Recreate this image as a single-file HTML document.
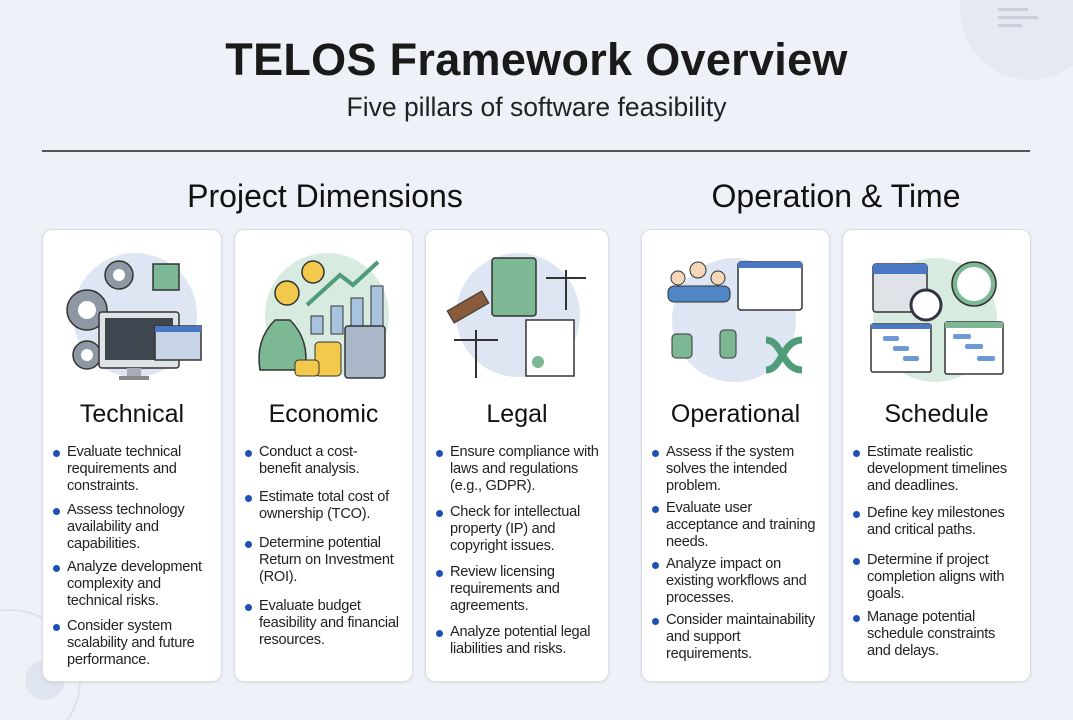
<!DOCTYPE html>
<html><head><meta charset="utf-8"><style>
*{margin:0;padding:0;box-sizing:border-box}
body{width:1073px;height:720px;background:#eef2f8;position:relative;overflow:hidden;font-family:"Liberation Sans",sans-serif;color:#1a1a1a}
.abs{position:absolute}
h1{position:absolute;left:0;width:1073px;top:34px;text-align:center;font-size:45px;font-weight:bold;letter-spacing:0.3px}
.sub{position:absolute;left:0;width:1073px;top:92px;text-align:center;font-size:26.5px;color:#222}
.rule{position:absolute;left:42px;width:988px;top:150px;height:2px;background:#555}
.sec{position:absolute;top:178px;font-size:32px;text-align:center;color:#111}
.card{position:absolute;top:229px;height:453px;background:#fff;border:1px solid #d8dde6;border-radius:10px;box-shadow:0 1px 3px rgba(0,0,0,.08)}
.ct{position:absolute;top:170px;left:0;width:100%;text-align:center;font-size:25px;color:#111}
.it{position:absolute;left:24px;white-space:nowrap;font-size:14.6px;letter-spacing:-0.25px;line-height:17px;color:#222}
.it:before{content:"";position:absolute;left:-14px;top:6px;width:7px;height:7px;border-radius:50%;background:#1e4fb4}
svg.ic{position:absolute;left:0;top:0}
</style></head><body>
<svg class="abs" style="left:950px;top:-20px" width="140" height="120"><circle cx="80" cy="30" r="70" fill="#e4e9f2"/><rect x="48" y="28" width="30" height="3" fill="#c8cfdb"/><rect x="48" y="36" width="40" height="3" fill="#c8cfdb"/><rect x="48" y="44" width="24" height="3" fill="#c8cfdb"/></svg>
<svg class="abs" style="left:0;top:560px" width="120" height="160"><circle cx="10" cy="120" r="70" fill="none" stroke="#dde2ea" stroke-width="2"/><circle cx="45" cy="120" r="20" fill="#dfe5ee"/></svg>
<h1>TELOS Framework Overview</h1>
<div class="sub">Five pillars of software feasibility</div>
<div class="rule"></div>
<div class="sec" style="left:150px;width:350px">Project Dimensions</div>
<div class="sec" style="left:661px;width:350px">Operation &amp; Time</div>

<div class="card" style="left:42px;width:180px">
<svg class="ic" width="180" height="160"><circle cx="92" cy="85" r="62" fill="#dde6f2"/>
<g fill="#8e97a3" stroke="#333" stroke-width="1.5"><circle cx="76" cy="45" r="14"/><circle cx="44" cy="80" r="20"/><circle cx="44" cy="125" r="14"/></g>
<g fill="#fff"><circle cx="76" cy="45" r="6"/><circle cx="44" cy="80" r="9"/><circle cx="44" cy="125" r="6"/></g>
<rect x="110" y="34" width="26" height="26" fill="#7cb894" stroke="#333" stroke-width="1.5"/>
<rect x="56" y="82" width="80" height="56" rx="3" fill="#dfe3e8" stroke="#333" stroke-width="1.5"/><rect x="62" y="88" width="68" height="42" fill="#3e4650"/>
<rect x="84" y="138" width="14" height="10" fill="#aab"/><rect x="76" y="146" width="30" height="4" fill="#888"/>
<rect x="112" y="96" width="46" height="34" fill="#c7d3e6" stroke="#333" stroke-width="1.5"/><rect x="112" y="96" width="46" height="6" fill="#4a78c4"/></svg>
<div class="ct">Technical</div>
<div class="it" style="top:214px">Evaluate technical<br>requirements and<br>constraints.</div>
<div class="it" style="top:272px">Assess technology<br>availability and<br>capabilities.</div>
<div class="it" style="top:329px">Analyze development<br>complexity and<br>technical risks.</div>
<div class="it" style="top:388px">Consider system<br>scalability and future<br>performance.</div>
</div>

<div class="card" style="left:234px;width:179px">
<svg class="ic" width="179" height="160"><circle cx="92" cy="85" r="62" fill="#d8ebe0"/>
<g fill="#f2c94c" stroke="#333" stroke-width="1.5"><circle cx="52" cy="63" r="12"/><circle cx="78" cy="42" r="11"/></g>
<polyline points="72,75 105,45 118,55 143,32" fill="none" stroke="#4f9c78" stroke-width="4"/>
<g fill="#a7c3de" stroke="#333" stroke-width="1"><rect x="76" y="86" width="12" height="18"/><rect x="96" y="76" width="12" height="28"/><rect x="116" y="68" width="12" height="36"/><rect x="136" y="56" width="12" height="48"/></g>
<path d="M40 90 Q20 110 25 140 L70 140 Q75 110 55 90Z" fill="#7cb894" stroke="#333" stroke-width="1.5"/>
<g fill="#f2c94c" stroke="#333" stroke-width="1"><rect x="80" y="112" width="26" height="34" rx="4"/><rect x="60" y="130" width="24" height="16" rx="4"/></g>
<rect x="110" y="96" width="40" height="52" rx="3" fill="#a9b7c8" stroke="#333" stroke-width="1.5"/></svg>
<div class="ct">Economic</div>
<div class="it" style="top:214px">Conduct a cost-<br>benefit analysis.</div>
<div class="it" style="top:259px">Estimate total cost of<br>ownership (TCO).</div>
<div class="it" style="top:305px">Determine potential<br>Return on Investment<br>(ROI).</div>
<div class="it" style="top:368px">Evaluate budget<br>feasibility and financial<br>resources.</div>
</div>

<div class="card" style="left:425px;width:184px">
<svg class="ic" width="184" height="160"><circle cx="92" cy="85" r="62" fill="#dde6f2"/>
<rect x="66" y="28" width="44" height="58" rx="3" fill="#7cb894" stroke="#333" stroke-width="1.5"/>
<rect x="22" y="70" width="40" height="14" fill="#8a5a3c" stroke="#333" transform="rotate(-30 42 77)"/>
<g stroke="#333" stroke-width="2" fill="none"><line x1="140" y1="40" x2="140" y2="80"/><line x1="120" y1="48" x2="160" y2="48"/><line x1="50" y1="100" x2="50" y2="148"/><line x1="28" y1="110" x2="72" y2="110"/></g>
<rect x="100" y="90" width="48" height="56" fill="#fff" stroke="#333" stroke-width="1.5"/><circle cx="112" cy="132" r="6" fill="#7cb894"/></svg>
<div class="ct">Legal</div>
<div class="it" style="top:214px">Ensure compliance with<br>laws and regulations<br>(e.g., GDPR).</div>
<div class="it" style="top:274px">Check for intellectual<br>property (IP) and<br>copyright issues.</div>
<div class="it" style="top:334px">Review licensing<br>requirements and<br>agreements.</div>
<div class="it" style="top:394px">Analyze potential legal<br>liabilities and risks.</div>
</div>

<div class="card" style="left:641px;width:189px">
<svg class="ic" width="189" height="160"><circle cx="92" cy="90" r="62" fill="#dde6f2"/>
<g fill="#4f86c6" stroke="#333" stroke-width="1"><circle cx="36" cy="48" r="7" fill="#f4d7b8"/><circle cx="56" cy="40" r="8" fill="#f4d7b8"/><circle cx="76" cy="48" r="7" fill="#f4d7b8"/><rect x="26" y="56" width="62" height="16" rx="6"/></g>
<rect x="96" y="32" width="64" height="48" rx="3" fill="#fff" stroke="#333" stroke-width="1.5"/><rect x="96" y="32" width="64" height="6" fill="#4a78c4"/>
<g fill="#7cb894" stroke="#333" stroke-width="1"><rect x="30" y="104" width="20" height="24" rx="4"/><rect x="78" y="100" width="16" height="28" rx="4"/></g>
<path d="M124 110 C140 110 140 140 160 140 M124 140 C140 140 140 110 160 110" stroke="#4f9c78" stroke-width="7" fill="none"/></svg>
<div class="ct">Operational</div>
<div class="it" style="top:214px">Assess if the system<br>solves the intended<br>problem.</div>
<div class="it" style="top:270px">Evaluate user<br>acceptance and training<br>needs.</div>
<div class="it" style="top:326px">Analyze impact on<br>existing workflows and<br>processes.</div>
<div class="it" style="top:382px">Consider maintainability<br>and support<br>requirements.</div>
</div>

<div class="card" style="left:842px;width:189px">
<svg class="ic" width="189" height="160"><circle cx="92" cy="90" r="62" fill="#d8ebe0"/>
<rect x="30" y="34" width="54" height="48" rx="3" fill="#dfe3e8" stroke="#333" stroke-width="1.5"/><rect x="30" y="34" width="54" height="10" fill="#4a78c4"/>
<circle cx="83" cy="75" r="15" fill="#fff" stroke="#334" stroke-width="3"/>
<circle cx="131" cy="54" r="22" fill="#7cb894" stroke="#333" stroke-width="1.5"/><circle cx="131" cy="54" r="17" fill="#fff"/>
<rect x="28" y="94" width="60" height="48" rx="2" fill="#fff" stroke="#333" stroke-width="1.5"/><rect x="28" y="94" width="60" height="5" fill="#4a78c4"/>
<rect x="102" y="92" width="58" height="52" rx="2" fill="#fff" stroke="#333" stroke-width="1.5"/><rect x="102" y="92" width="58" height="6" fill="#7cb894"/>
<g fill="#6d9ad6"><rect x="40" y="106" width="16" height="5" rx="2"/><rect x="50" y="116" width="16" height="5" rx="2"/><rect x="60" y="126" width="16" height="5" rx="2"/><rect x="110" y="104" width="18" height="5" rx="2"/><rect x="122" y="114" width="18" height="5" rx="2"/><rect x="134" y="126" width="18" height="5" rx="2"/></g></svg>
<div class="ct">Schedule</div>
<div class="it" style="top:214px">Estimate realistic<br>development timelines<br>and deadlines.</div>
<div class="it" style="top:275px">Define key milestones<br>and critical paths.</div>
<div class="it" style="top:322px">Determine if project<br>completion aligns with<br>goals.</div>
<div class="it" style="top:379px">Manage potential<br>schedule constraints<br>and delays.</div>
</div>
</body></html>
